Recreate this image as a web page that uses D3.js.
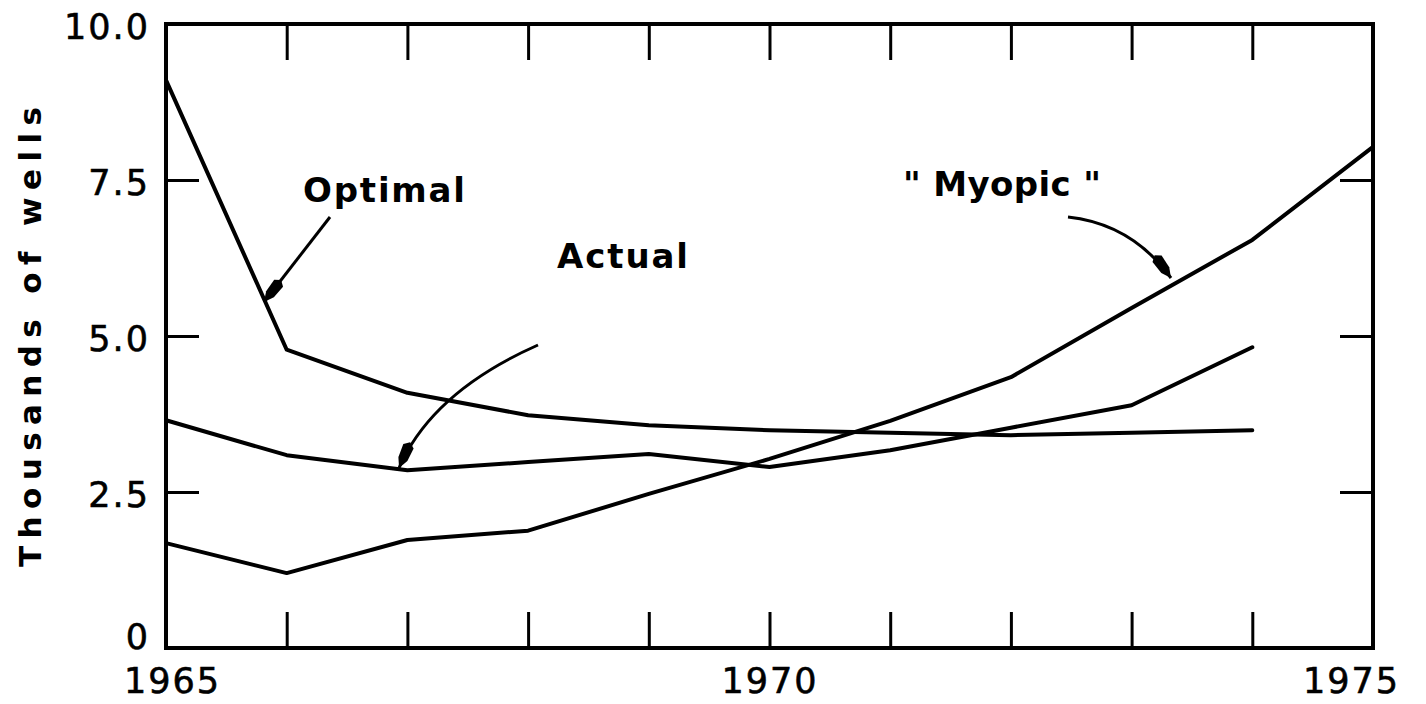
<!DOCTYPE html>
<html>
<head>
<meta charset="utf-8">
<script src="https://cdn.jsdelivr.net/npm/d3@7/dist/d3.min.js"></script>
<style>
  html, body { margin: 0; padding: 0; background: #fff; }
  svg { display: block; }
  .tick-lbl { font-family: "DejaVu Sans", sans-serif; font-size: 35px; fill: #000; letter-spacing: 2px; stroke: #000; stroke-width: 0.6px; }
  .note { font-family: "DejaVu Sans", sans-serif; font-weight: bold; font-size: 31px; fill: #000; }
  .note.big { font-size: 34px; }
</style>
</head>
<body>
<svg id="chart" width="1426" height="704"></svg>
<script>
// Years and series (thousands of wells)
const YEARS   = [1965, 1966, 1967, 1968, 1969, 1970, 1971, 1972, 1973, 1974, 1975];
const OPTIMAL = [9.10, 4.78, 4.09, 3.73, 3.57, 3.49, 3.45, 3.41, 3.45, 3.49];
const ACTUAL  = [3.65, 3.09, 2.85, 2.98, 3.11, 2.90, 3.17, 3.53, 3.89, 4.82];
const MYOPIC  = [1.68, 1.20, 1.73, 1.88, 2.47, 3.03, 3.64, 4.34, 5.45, 6.54, 8.03];

const Y_TICKS   = [0, 2.5, 5, 7.5, 10];
const Y_LABELS  = ['0', '2.5', '5.0', '7.5', '10.0'];
const X_LABELED = [1965, 1970, 1975];

const M = { left: 166, right: 1373, top: 24, bottom: 648 };

const svg = d3.select('#chart');

const x = d3.scaleLinear().domain([1965, 1975]).range([M.left, M.right]);
const y = d3.scaleLinear().domain([0, 10]).range([M.bottom, M.top]);

// Axes — ticks pointing inward, domain replaced by a frame
const xBottom = d3.axisBottom(x)
  .tickValues(YEARS)
  .tickSizeInner(-36).tickSizeOuter(0).tickPadding(20)
  .tickFormat(d => X_LABELED.includes(d) ? String(d) : '');
const xTop = d3.axisTop(x)
  .tickValues(YEARS.slice(1, -1))
  .tickSizeInner(-36).tickSizeOuter(0).tickFormat('');
const yLeft = d3.axisLeft(y)
  .tickValues(Y_TICKS)
  .tickSizeInner(-33).tickSizeOuter(0).tickPadding(16)
  .tickFormat((d, i) => Y_LABELS[i]);
const yRight = d3.axisRight(y)
  .tickValues(Y_TICKS.slice(1, -1))
  .tickSizeInner(-33).tickSizeOuter(0).tickFormat('');

function styleAxis(g) {
  g.select('.domain').remove();
  g.selectAll('.tick line').attr('stroke', '#000').attr('stroke-width', 3);
  g.selectAll('.tick text').attr('class', 'tick-lbl').attr('fill', '#000');
  g.attr('font-family', null).attr('font-size', null);
}

const gxb = svg.append('g').attr('transform', `translate(0,${M.bottom})`).call(xBottom).call(styleAxis);
svg.append('g').attr('transform', `translate(0,${M.top})`).call(xTop).call(styleAxis);
const gyl = svg.append('g').attr('transform', `translate(${M.left},0)`).call(yLeft).call(styleAxis);
svg.append('g').attr('transform', `translate(${M.right},0)`).call(yRight).call(styleAxis);

// Corner ticks are covered by the frame; nudge labels as in the original
gyl.selectAll('.tick').filter(d => d === 0 || d === 10).select('line').remove();
gyl.selectAll('.tick text').attr('dy', d => d === 0 ? '0.0em' : '0.4em');
gxb.selectAll('.tick line').filter(d => d === 1965 || d === 1975).remove();
gxb.selectAll('.tick text').attr('dx', d => d === 1965 ? 6 : d === 1975 ? -22 : 0);

// Frame
svg.append('rect')
  .attr('x', M.left).attr('y', M.top)
  .attr('width', M.right - M.left).attr('height', M.bottom - M.top)
  .attr('fill', 'none').attr('stroke', '#000').attr('stroke-width', 4);

// Series lines
const line = d3.line().x((d, i) => x(YEARS[i])).y(d => y(d));
[OPTIMAL, ACTUAL, MYOPIC].forEach(s => {
  svg.append('path').datum(s)
    .attr('d', line)
    .attr('fill', 'none').attr('stroke', '#000')
    .attr('stroke-width', 4).attr('stroke-linejoin', 'round').attr('stroke-linecap', 'round');
});

// Y axis title
svg.append('text')
  .attr('transform', 'translate(41,337) rotate(-90)')
  .attr('text-anchor', 'middle')
  .attr('class', 'note')
  .attr('textLength', 460).attr('lengthAdjust', 'spacing')
  .text('Thousands of wells');

// Annotation labels
svg.append('text').attr('class', 'note big').attr('x', 303).attr('y', 202)
  .attr('textLength', 162).attr('lengthAdjust', 'spacing').text('Optimal');
svg.append('text').attr('class', 'note big').attr('x', 557).attr('y', 268)
  .attr('textLength', 131).attr('lengthAdjust', 'spacing').text('Actual');
svg.append('text').attr('class', 'note big').attr('x', 903).attr('y', 196)
  .attr('textLength', 198).attr('lengthAdjust', 'spacing').text('" Myopic "');

// Arrows
const defs = svg.append('defs');
defs.append('marker')
  .attr('id', 'head').attr('viewBox', '0 0 20 10')
  .attr('refX', 20).attr('refY', 5)
  .attr('markerWidth', 28).attr('markerHeight', 14)
  .attr('markerUnits', 'userSpaceOnUse').attr('orient', 'auto')
  .append('path').attr('d', 'M0,5 L3,1 L13,1.5 L20,5 L13,8.5 L3,9 Z').attr('fill', '#000');

const ARROWS = [
  'M330,217 L264,302',
  'M538,345 Q432,392 399,468',
  'M1068,217 Q1132,224 1171,278',
];
ARROWS.forEach(d => {
  svg.append('path').attr('d', d)
    .attr('fill', 'none').attr('stroke', '#000').attr('stroke-width', 3)
    .attr('marker-end', 'url(#head)');
});
</script>
</body>
</html>
